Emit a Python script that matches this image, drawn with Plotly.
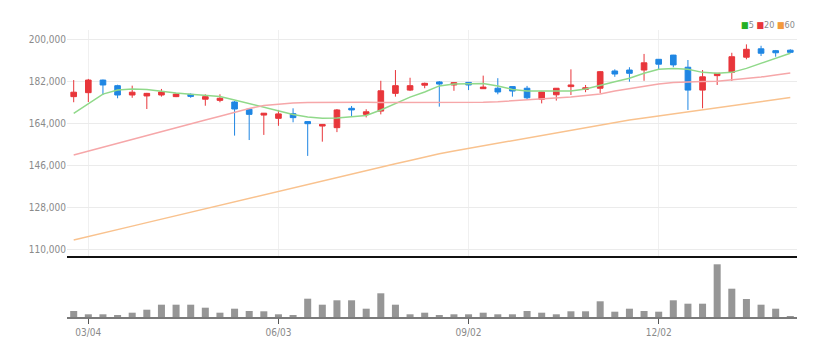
import plotly.graph_objects as go
import pandas as pd

# Weekly candles (Mondays), 2019-02-25 .. 2020-02-03
dates = pd.date_range("2019-02-25", periods=50, freq="7D")

opens = [175300, 177000, 182400, 180000, 176000, 175600, 176000, 175300, 176300, 174200,
         173700, 173000, 169900, 167400, 166000, 168000, 164600, 162700, 162000, 170300,
         167700, 169100, 176700, 178100, 180200, 181600, 180300, 181400, 178700, 178900,
         179600, 178900, 174200, 176100, 179600, 178400, 178900, 186300, 186700, 186700,
         191300, 193100, 187900, 178100, 184300, 185700, 192200, 195800, 195000, 195200]
highs = [182400, 182900, 182600, 180400, 180000, 176900, 178600, 176600, 176700, 176300,
         176300, 173400, 170000, 168300, 169600, 170300, 164700, 163500, 170000, 171300,
         169900, 182100, 186700, 183400, 181300, 182000, 181400, 181600, 184300, 183200,
         179700, 179900, 177400, 179000, 187000, 180300, 186300, 187000, 187900, 193600,
         191400, 193200, 191000, 186700, 185400, 194100, 197700, 197100, 195300, 195600]
lows = [172900, 173000, 176000, 174600, 174800, 170000, 175300, 175100, 174800, 171400,
        172900, 158600, 156700, 158900, 162800, 164300, 149900, 156000, 160100, 166700,
        166400, 167700, 175300, 177700, 178900, 171000, 177800, 178100, 178600, 176300,
        175300, 173900, 172400, 173600, 176000, 177200, 176700, 183800, 181700, 182100,
        187000, 187900, 169600, 170300, 180300, 182000, 191300, 192700, 192400, 193900]
closes = [177200, 182400, 180300, 176000, 177200, 176700, 177300, 176400, 175400, 175300,
          174600, 170000, 167700, 168200, 167900, 166300, 163700, 163400, 169600, 169600,
          168800, 177800, 180000, 180000, 181000, 180700, 181300, 180300, 179400, 177300,
          177700, 174800, 177300, 178900, 180300, 179100, 186000, 185000, 185300, 189800,
          189200, 188900, 178100, 183800, 185300, 192400, 195600, 193900, 194100, 194300]

ma5 = [168100, 172100, 176400, 178100, 178600, 178400, 177500, 176900, 176300, 176000,
       175400, 173900, 172400, 170600, 169100, 167600, 166600, 166000, 166100, 166600,
       167200, 169600, 172400, 175100, 177300, 179900, 180700, 180900, 180900, 179900,
       178400, 177700, 177600, 177600, 177700, 178600, 180300, 181700, 183200, 185300,
       187000, 187400, 187000, 185700, 185300, 185700, 187400, 189600, 191700, 193900]
ma20 = [150300, 152000, 153600, 155300, 156900, 158600, 160300, 161900, 163600, 165300,
        166900, 168600, 170200, 171500, 172100, 172600, 172800, 172900, 172900, 172900,
        172900, 172800, 172800, 172700, 172700, 172700, 172700, 172800, 172900, 173100,
        173500, 173900, 174300, 174600, 175100, 175800, 176400, 177700, 178800, 179900,
        180700, 181400, 181700, 181800, 181900, 182400, 183100, 183700, 184600, 185400]
ma60 = [113900, 115300, 116800, 118300, 119800, 121300, 122800, 124300, 125700, 127200,
        128700, 130200, 131700, 133200, 134600, 136100, 137600, 139100, 140500, 142000,
        143500, 145000, 146500, 147900, 149400, 150800, 152000, 153100, 154200, 155300,
        156500, 157600, 158700, 159800, 161000, 162100, 163200, 164400, 165300, 166100,
        167000, 167900, 168800, 169700, 170500, 171400, 172300, 173200, 174000, 174900]

volumes = [120000, 54000, 54000, 34000, 86000, 146000, 246000, 246000, 246000, 186000,
           86000, 166000, 120000, 114000, 54000, 40000, 366000, 246000, 334000, 334000,
           166000, 474000, 246000, 54000, 86000, 30000, 54000, 54000, 86000, 54000,
           54000, 120000, 86000, 54000, 114000, 114000, 314000, 106000, 166000, 120000,
           106000, 334000, 266000, 266000, 1054000, 566000, 360000, 246000, 166000, 14000]

tick_dates = ["2019-03-04", "2019-06-03", "2019-09-02", "2019-12-02"]
tick_text = ["03/04", "06/03", "09/02", "12/02"]
price_ticks = [110000, 128000, 146000, 164000, 182000, 200000]

RED = "#e8363b"
BLUE = "#1f86e3"
GREEN_MA = "#90d98a"
PINK_MA = "#f6a7a9"
ORANGE_MA = "#f9c28e"
FONT = "DejaVu Sans Condensed, Liberation Sans Narrow, Roboto Condensed, Roboto, sans-serif"

fig = go.Figure()
fig.add_trace(go.Candlestick(
    x=dates, open=opens, high=highs, low=lows, close=closes,
    increasing=dict(line=dict(color=RED, width=1), fillcolor=RED),
    decreasing=dict(line=dict(color=BLUE, width=1), fillcolor=BLUE),
    whiskerwidth=0, showlegend=False, xaxis="x", yaxis="y"))
for vals, col in [(ma5, GREEN_MA), (ma20, PINK_MA), (ma60, ORANGE_MA)]:
    fig.add_trace(go.Scatter(x=dates, y=vals, mode="lines", line=dict(color=col, width=1.5),
                             showlegend=False, xaxis="x", yaxis="y"))
fig.add_trace(go.Bar(x=dates, y=volumes, marker=dict(color="#969696", line=dict(width=0)),
                     showlegend=False, xaxis="x2", yaxis="y2"))

x_range = ["2019-02-21 19:00", "2020-02-06 05:00"]
fig.update_layout(
    width=830, height=348,
    margin=dict(l=59, r=41, t=22, b=39),
    paper_bgcolor="white", plot_bgcolor="white",
    font=dict(family=FONT, size=10, color="#8a8a8a"),
    boxgap=0.45, bargap=0.52,
    xaxis=dict(domain=[0, 1], anchor="y", type="date", range=x_range, automargin=False,
               tickvals=tick_dates, showticklabels=False, ticks="",
               showgrid=True, gridcolor="#f0f0f0", gridwidth=1,
               showline=True, linecolor="#111111", linewidth=2,
               zeroline=False, rangeslider=dict(visible=False)),
    yaxis=dict(domain=[0.2125, 1], range=[107000, 203857], tickvals=price_ticks,
               automargin=False,
               tickformat=",d", showgrid=True, gridcolor="#ebebeb", gridwidth=1,
               zeroline=False, ticks="", tickfont=dict(size=10, color="#8a8a8a")),
    xaxis2=dict(domain=[0, 1], anchor="y2", type="date", range=x_range, automargin=False,
                tickvals=tick_dates, ticktext=tick_text, ticks="outside", ticklen=5,
                tickcolor="#555555", tickwidth=1, showgrid=False,
                showline=True, linecolor="#7a7a7a", linewidth=2, zeroline=False,
                tickfont=dict(size=10, color="#8a8a8a")),
    yaxis2=dict(domain=[0, 0.2021], range=[0, 1160000], showticklabels=False,
                automargin=False,
                showgrid=False, zeroline=False, ticks=""),
    annotations=[dict(
        xref="paper", yref="paper", x=1.0, y=1.017, xanchor="right", yanchor="middle",
        showarrow=False, font=dict(size=9, color="#8a8a8a", family=FONT),
        text=('<span style="color:#25b025">■</span>5 '
              '<span style="color:#e8363b">■</span>20 '
              '<span style="color:#f39a3c">■</span>60'))],
)

fig.write_html("out.html")
